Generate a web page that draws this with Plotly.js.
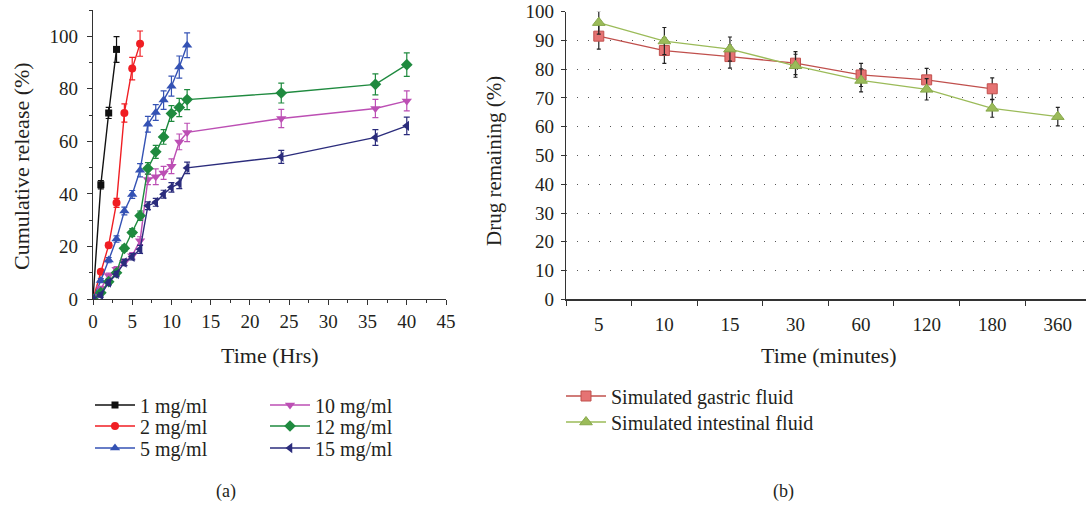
<!DOCTYPE html>
<html>
<head>
<meta charset="utf-8">
<script src="https://cdn.plot.ly/plotly-3.0.1.min.js"></script>
<style>html,body{margin:0;padding:0;background:#fff;}#chart{width:1086px;height:508px;}</style>
</head>
<body>
<div id="chart"></div>
<script>
// ---- Panel (a) data ----
const hrsShort = [0, 1, 2, 3];
const hrs6 = [0, 1, 2, 3, 4, 5, 6];
const hrs12 = [0, 1, 2, 3, 4, 5, 6, 7, 8, 9, 10, 11, 12];
const hrsLong = [0, 1, 2, 3, 4, 5, 6, 7, 8, 9, 10, 11, 12, 24, 36, 40];

const rel1 = [0, 43.5, 70.8, 95];
const err1 = [0, 1.6, 2.1, 4.9];
const rel2 = [0, 10.4, 20.5, 36.6, 70.8, 87.7, 97.2];
const err2 = [0, 0.8, 1, 1.7, 3.5, 4.3, 4.8];
const rel5 = [0, 7, 14.8, 22.8, 33.5, 39.8, 49, 66.5, 71, 75.7, 81, 88.3, 96.6];
const err5 = [0, 0.8, 1, 1.2, 1.5, 1.5, 2.5, 3, 3, 3.5, 3.8, 4.2, 4.7];
const rel10 = [0, 4, 8.9, 11.3, 14, 16.5, 22.2, 45.5, 46.5, 48, 50.5, 59.8, 63.4, 68.7, 72.5, 75.4];
const err10 = [0, 0.8, 1, 1, 1.2, 1.2, 1.5, 2, 3, 2.5, 2.8, 3, 3.5, 3.5, 3.5, 3.8];
const rel12 = [0, 2.4, 6.6, 10, 19.3, 25.3, 31.7, 49.7, 56, 61.7, 70.6, 72.9, 75.9, 78.4, 81.7, 89.2];
const err12 = [0, 0.8, 1, 1, 1.2, 1.5, 1.8, 2.2, 2.5, 2.8, 3, 3.5, 3.8, 3.8, 4, 4.5];
const rel15 = [0, 1.5, 6.3, 9.5, 13.9, 16.1, 18.9, 35.5, 36.8, 39.9, 42.5, 44, 49.9, 54.1, 61.5, 65.9];
const err15 = [0, 0.8, 1, 1, 1.2, 1.2, 1.5, 1.5, 1.5, 1.5, 1.8, 2, 2.2, 2.5, 3, 3.3];

// ---- Panel (b) data ----
const minuteCats = ["5", "10", "15", "30", "60", "120", "180", "360"];
const gastric = [91.5, 86.5, 84.4, 82.1, 78, 76.3, 73.2];
const gastricErr = [4.5, 4.5, 4, 4, 4, 4, 3.8];
const intestinal = [96.2, 89.8, 87, 81.2, 76.1, 73, 66.4, 63.5];
const intestinalErr = [4, 4.7, 4.2, 4, 4, 3.7, 3.1, 3.2];

const FONT = "Liberation Serif, Times New Roman, serif";
const TXT = "#231f20";

function relTrace(name, x, y, e, color, symbol, size, legend) {
  return {
    type: "scatter", mode: "lines+markers", name: name, x: x, y: y,
    xaxis: "x", yaxis: "y", legend: legend,
    line: {color: color, width: 1.4},
    marker: {color: color, symbol: symbol, size: size, line: {width: 0}},
    error_y: {type: "data", array: e, visible: true, color: color, thickness: 1.2, width: 3}
  };
}

const traces = [
  relTrace("1 mg/ml", hrsShort, rel1, err1, "#111111", "square", 7, "legend"),
  relTrace("2 mg/ml", hrs6, rel2, err2, "#f01e23", "circle", 8, "legend2"),
  relTrace("5 mg/ml", hrs12, rel5, err5, "#3452b4", "triangle-up", 9, "legend3"),
  relTrace("10 mg/ml", hrsLong, rel10, err10, "#bc4fb4", "triangle-down", 9, "legend4"),
  relTrace("12 mg/ml", hrsLong, rel12, err12, "#1f8a3f", "diamond", 9, "legend5"),
  relTrace("15 mg/ml", hrsLong, rel15, err15, "#2b2c7c", "triangle-left", 9, "legend6"),
  {
    type: "scatter", mode: "lines+markers", name: "Simulated gastric fluid",
    x: minuteCats.slice(0, gastric.length), y: gastric, xaxis: "x2", yaxis: "y2", legend: "legend7",
    line: {color: "#c0504d", width: 1.3},
    marker: {symbol: "square", size: 10, color: "#e57373", line: {color: "#c0504d", width: 1}},
    error_y: {type: "data", array: gastricErr, visible: true, color: "#222", thickness: 1.2, width: 2}
  },
  {
    type: "scatter", mode: "lines+markers", name: "Simulated intestinal fluid",
    x: minuteCats, y: intestinal, xaxis: "x2", yaxis: "y2", legend: "legend8",
    line: {color: "#9bbb59", width: 1.3},
    marker: {symbol: "triangle-up", size: 11, color: "#9bbb59", line: {color: "#86a84a", width: 1}},
    error_y: {type: "data", array: intestinalErr, visible: true, color: "#222", thickness: 1.2, width: 2}
  }
];

const W = 1086, H = 508;
const px = v => v / W;
const py = v => (H - v) / H;

function leg(x, y) {
  return {
    font: {family: FONT, size: 20, color: TXT},
    bgcolor: "rgba(0,0,0,0)", borderwidth: 0, itemwidth: 40,
    xanchor: "left", yanchor: "middle", orientation: "v",
    x: px(x), y: py(y)
  };
}

const TICKF = {family: FONT, size: 19, color: TXT};
const TITLEF = {family: FONT, size: 22, color: TXT};

const layout = {
  width: W, height: H,
  margin: {l: 0, r: 0, t: 0, b: 0},
  paper_bgcolor: "#fff", plot_bgcolor: "rgba(0,0,0,0)",
  font: {family: FONT, size: 15, color: TXT},
  showlegend: true,
  xaxis: {
    domain: [px(93), px(446)], range: [0, 45], anchor: "y",
    tick0: 0, dtick: 5, ticks: "outside", ticklen: 5, tickwidth: 1, tickcolor: "#333",
    minor: {dtick: 2.5, ticks: "outside", ticklen: 3, tickcolor: "#333", showgrid: false},
    showline: true, linecolor: "#333", linewidth: 1.2, showgrid: false, zeroline: false,
    tickfont: TICKF
  },
  yaxis: {
    domain: [py(299), py(10)], range: [0, 110], anchor: "x",
    tick0: 0, dtick: 20, ticks: "outside", ticklen: 5, tickwidth: 1, tickcolor: "#333",
    minor: {dtick: 10, ticks: "outside", ticklen: 3, tickcolor: "#333", showgrid: false},
    showline: true, linecolor: "#333", linewidth: 1.2, showgrid: false, zeroline: false,
    tickfont: TICKF, ticklabelstandoff: 5
  },
  xaxis2: {
    domain: [px(566), 1], type: "category", range: [-0.5, 7.43], anchor: "y2",
    categoryorder: "array", categoryarray: minuteCats,
    tickson: "boundaries", ticks: "outside", ticklen: 5, tickwidth: 1, tickcolor: "#333",
    showline: true, linecolor: "#333", linewidth: 1.2, showgrid: false, zeroline: false,
    tickfont: TICKF, ticklabelstandoff: 8
  },
  yaxis2: {
    domain: [py(299.3), py(11.7)], range: [0, 100], anchor: "x2",
    tick0: 0, dtick: 10, ticks: "outside", ticklen: 4, tickwidth: 1, tickcolor: "#333",
    showline: true, linecolor: "#333", linewidth: 1.2, zeroline: false,
    showgrid: true, gridcolor: "#555", gridwidth: 1, griddash: "1px,10px",
    tickfont: TICKF, ticklabelstandoff: 3
  },
  legend: leg(90, 405),
  legend2: leg(90, 426),
  legend3: leg(90, 448),
  legend4: leg(265, 405),
  legend5: leg(265, 426),
  legend6: leg(265, 448),
  legend7: leg(561, 396),
  legend8: leg(561, 422),
  annotations: [
    {text: "Cumulative release (%)", xref: "paper", yref: "paper", x: px(21), y: py(166),
     xanchor: "center", yanchor: "middle", textangle: -90, showarrow: false, font: TITLEF},
    {text: "Time (Hrs)", xref: "paper", yref: "paper", x: px(270), y: py(355),
     xanchor: "center", yanchor: "middle", showarrow: false, font: TITLEF},
    {text: "Drug remaining (%)", xref: "paper", yref: "paper", x: px(494), y: py(161),
     xanchor: "center", yanchor: "middle", textangle: -90, showarrow: false,
     font: {family: FONT, size: 21, color: TXT}},
    {text: "Time (minutes)", xref: "paper", yref: "paper", x: px(828), y: py(355),
     xanchor: "center", yanchor: "middle", showarrow: false,
     font: {family: FONT, size: 22, color: TXT}},
    {text: "(a)", xref: "paper", yref: "paper", x: px(226), y: py(491),
     xanchor: "center", yanchor: "middle", showarrow: false,
     font: {family: FONT, size: 18, color: TXT}},
    {text: "(b)", xref: "paper", yref: "paper", x: px(783), y: py(491),
     xanchor: "center", yanchor: "middle", showarrow: false,
     font: {family: FONT, size: 18, color: TXT}}
  ]
};

Plotly.newPlot("chart", traces, layout, {displayModeBar: false, staticPlot: true});
</script>
</body>
</html>
